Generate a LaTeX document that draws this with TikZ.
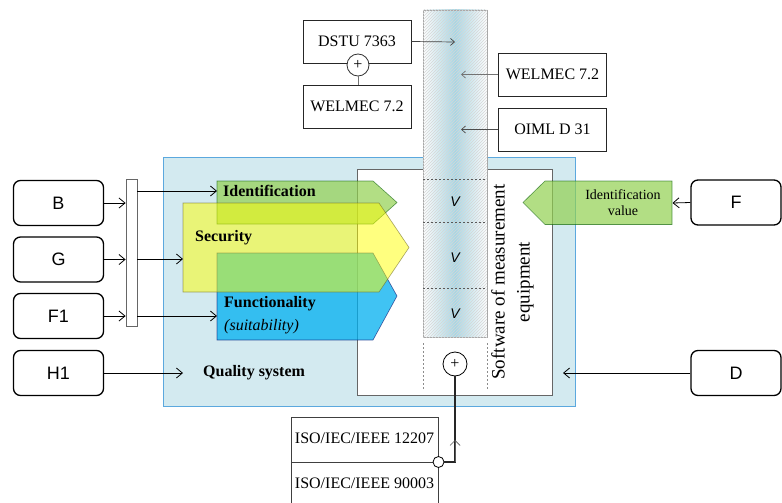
\documentclass[tikz,border=0pt]{standalone}
\usepackage{fontspec}
\setmainfont{Liberation Serif}
\setsansfont{Liberation Sans}
\usetikzlibrary{arrows.meta,patterns}
\definecolor{bgblue}{HTML}{D3EAF0}
\definecolor{bgborder}{HTML}{5BA8DE}
\definecolor{gfill}{HTML}{92D050}
\definecolor{yfill}{HTML}{FFFF00}
\definecolor{bfill}{HTML}{00B0F0}
\definecolor{colblue}{HTML}{A6D7E5}
\begin{document}
\begin{tikzpicture}[x=1pt,y=-1pt,font=\fontsize{16}{19}\selectfont,
  lbox/.style={draw=black,line width=1.3pt,rounded corners=7pt,minimum width=90pt,minimum height=45pt,inner sep=0pt,font=\sffamily\fontsize{18}{20}\selectfont},
  tbox/.style={draw=black!85,line width=0.8pt,minimum width=108pt,minimum height=43pt,inner sep=0pt,fill=white},
  arr/.style={line width=0.8pt,-{Straight Barb[length=6pt,width=10pt,line width=0.8pt]}},
  sarr/.style={line width=0.7pt,-{Straight Barb[length=4pt,width=7pt,line width=0.7pt]}},
  shp/.style={line width=0.6pt,draw opacity=0.6},
  bl/.style={font=\bfseries\fontsize{16}{19}\selectfont,inner sep=0pt,anchor=west},
  vlab/.style={font=\sffamily\itshape\fontsize{14}{16}\selectfont},
  plus/.style={circle,draw=black,line width=0.8pt,fill=white,inner sep=0pt}]
\useasboundingbox (0,0) rectangle (782,503);
% background quality system
\node[draw=bgborder,line width=0.8pt,fill=bgblue,minimum width=412pt,minimum height=249pt,inner sep=0pt] (qs) at (369,281.5) {};
% software box
\node[draw=black!60,line width=0.8pt,fill=white,minimum width=195pt,minimum height=226pt,inner sep=0pt] (sw) at (454.5,282) {};
% dashed lines below column
\draw[black!45,dash pattern=on 2pt off 2pt,line width=0.6pt] (423,343) -- (423,389);
\draw[black!45,dash pattern=on 2pt off 2pt,line width=0.6pt] (487,343) -- (487,389);
% column
\node[draw=black!35,line width=0.8pt,minimum width=64pt,minimum height=327pt,inner sep=0pt,
  left color=white,right color=white,middle color=colblue,
  postaction={pattern=north east lines,pattern color=black!16}] (col) at (455,173.5) {};
\draw[black!65,dash pattern=on 2pt off 2pt,line width=0.6pt] (423,179) -- (487,179);
\draw[black!65,dash pattern=on 2pt off 2pt,line width=0.6pt] (423,222) -- (487,222);
\draw[black!65,dash pattern=on 2pt off 2pt,line width=0.6pt] (423,288) -- (487,288);
\node[vlab] (v1) at (455,201.5) {V};
\node[vlab] (v2) at (455,258) {V};
\node[vlab] (v3) at (455,314) {V};
% plus below column
\node[plus,minimum size=24pt] (plus2) at (455,364) {+};
% shapes
\filldraw[shp,fill=gfill,fill opacity=0.7,draw=green!35!black] (217,181) -- (373,181) -- (397,202.5) -- (373,224) -- (217,224) -- cycle;
\filldraw[shp,fill=bfill,fill opacity=0.75,draw=blue!40!black] (217,253) -- (373,253) -- (397,296) -- (373,340) -- (217,340) -- cycle;
\filldraw[shp,fill=yfill,fill opacity=0.5,draw=olive!70!black] (183,203) -- (379,203) -- (409,247.5) -- (379,292) -- (183,292) -- cycle;
\filldraw[shp,fill=gfill,fill opacity=0.7,draw=green!35!black] (672,181) -- (545,181) -- (523,202.5) -- (545,224.5) -- (672,224.5) -- cycle;
\coordinate (idin) at (217,191);
\coordinate (secin) at (183,259);
\coordinate (funin) at (217,316);
\coordinate (idvin) at (672.5,203);
\coordinate (qsin) at (183,373);
\coordinate (dend) at (563,373);
% labels
\node[bl] (tid) at (223,191) {Identification};
\node[bl] (tsec) at (195,237.5) {Security};
\node[bl] (tfun) at (224,304) {Functionality};
\node[inner sep=0pt,anchor=west,font=\itshape\fontsize{16}{19}\selectfont] (tsuit) at (224,327) {(suitability)};
\node[bl] (tqs) at (203,372.5) {Quality system};
\node[align=center,inner sep=0pt,font=\fontsize{14}{16.5}\selectfont] (tidv) at (623,202.5) {Identification\\value};
\node[rotate=90,align=center,inner sep=0pt,font=\fontsize{19}{25}\selectfont] (tsw) at (512.5,282) {Software of measurement\\equipment};
% left boxes
\node[lbox] (B) at (58.5,203) {B};
\node[lbox] (G) at (58.5,259.5) {G};
\node[lbox] (F1) at (58.5,316) {F1};
\node[lbox] (H1) at (58.5,373) {H1};
\node[lbox] (F) at (736,202.5) {F};
\node[lbox] (D) at (736,373) {D};
\node[draw=black!60,line width=0.8pt,fill=white,minimum width=11pt,minimum height=147pt,inner sep=0pt] (bar) at (131.5,253) {};
\draw[arr] (B.east) -- (B.east -| bar.west);
\draw[arr] (G.east) -- (G.east -| bar.west);
\draw[arr] (F1.east) -- (F1.east -| bar.west);
\draw[arr] (idin -| bar.east) -- (idin);
\draw[arr] (secin -| bar.east) -- (secin);
\draw[arr] (funin -| bar.east) -- (funin);
\draw[arr] (H1.east) -- (qsin);
\draw[arr] (F.west) -- (idvin);
\draw[arr] (D.west) -- (dend);
% top boxes
\node[tbox] (dstu) at (357,41.5) {DSTU 7363};
\node[tbox] (well) at (357,106.5) {WELMEC 7.2};
\node[tbox] (welr) at (552.5,74.5) {WELMEC 7.2};
\node[tbox] (oiml) at (552.5,129.5) {OIML D 31};
\node[plus,minimum size=22pt,draw=black!80] (plus1) at (358,65) {+};
\draw[black!55,line width=0.8pt] (plus1.south) -- (plus1.south |- well.north);
\coordinate (c1) at (455,42);
\coordinate (c2) at (461,74.5);
\coordinate (c3) at (461,129.5);
\draw[sarr,black!75] (dstu.east) -- (c1);
\draw[sarr,black!55] (welr.west) -- (c2);
\draw[sarr,black!70] (oiml.west) -- (c3);
% ISO boxes
\draw[black!75,line width=0.8pt] (291,503) -- (291,417) -- (438,417) -- (438,503);
\draw[black!75,line width=0.8pt] (291,462) -- (438,462);
\node[inner sep=0pt] (iso1) at (364.5,438) {ISO/IEC/IEEE 12207};
\node[inner sep=0pt] (iso2) at (364.5,483.5) {ISO/IEC/IEEE 90003};
\node[circle,draw=black,line width=0.8pt,fill=white,minimum size=11pt,inner sep=0pt] (isoc) at (438.5,462) {};
\coordinate (corner) at (455,462);
\coordinate (mid) at (455,440);
\draw[black!85,line width=1.2pt] (isoc.east) -- (corner) -- (plus2.south);
\draw[black!65,line width=0.7pt,-{Straight Barb[length=5pt,width=10pt,line width=0.7pt]}] (corner) -- (mid);
\end{tikzpicture}
\end{document}
